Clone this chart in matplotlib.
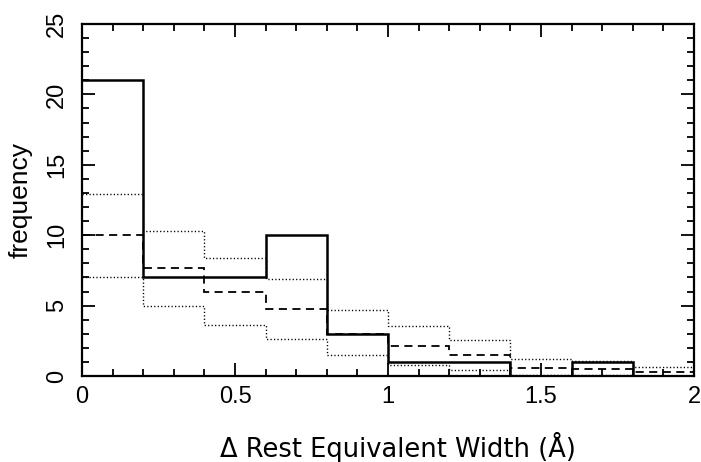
import matplotlib
matplotlib.use("Agg")
import matplotlib.pyplot as plt
from matplotlib.ticker import MultipleLocator

bin_edges = [0.0, 0.2, 0.4, 0.6, 0.8, 1.0, 1.2, 1.4, 1.6, 1.8, 2.0]
observed = [21, 7, 7, 10, 3, 1, 1, 0, 1, 0]
mean_sim = [10.0, 7.65, 6.0, 4.75, 3.0, 2.15, 1.49, 0.54, 0.5, 0.26]
upper_sim = [12.95, 10.3, 8.4, 6.87, 4.66, 3.57, 2.56, 1.18, 1.1, 0.66]
lower_sim = [7.0, 5.0, 3.6, 2.65, 1.49, 0.78, 0.42, 0.1, 0.05, 0.02]
x_ticks = [0, 0.5, 1, 1.5, 2]
x_ticklabels = ['0', '0.5', '1', '1.5', '2']

plt.rcParams['font.family'] = ['Liberation Sans', 'DejaVu Sans']

fig = plt.figure(figsize=(7.01, 4.62), dpi=100)
ax = fig.add_axes([82 / 701, 86 / 462, 612 / 701, 352 / 462])

ax.stairs(upper_sim, bin_edges, color='black', lw=1.0, linestyle=(0, (0.9, 1.6)), baseline=None)
ax.stairs(lower_sim, bin_edges, color='black', lw=1.0, linestyle=(0, (0.9, 1.6)), baseline=None)
ax.stairs(mean_sim, bin_edges, color='black', lw=1.3, linestyle=(0, (4.5, 3)), baseline=None)
ax.stairs(observed, bin_edges, color='black', lw=1.8, baseline=None)

ax.set_xlim(0, 2)
ax.set_ylim(0, 25)
ax.set_xticks(x_ticks)
ax.set_xticklabels(x_ticklabels)
ax.xaxis.set_minor_locator(MultipleLocator(0.1))
ax.yaxis.set_major_locator(MultipleLocator(5))
ax.yaxis.set_minor_locator(MultipleLocator(1))

ax.tick_params(which='both', direction='in', top=True, right=True, width=1.3, color='black')
ax.tick_params(which='major', length=9.5)
ax.tick_params(which='minor', length=5)
ax.tick_params(axis='x', labelsize=17, pad=7)
ax.tick_params(axis='y', labelsize=17, pad=10, labelrotation=90)
for lab in ax.get_yticklabels():
    lab.set_verticalalignment('center')

for s in ax.spines.values():
    s.set_linewidth(1.6)

ax.set_ylabel('frequency', fontsize=19)
ax.yaxis.set_label_coords((33 - 82) / 612, 0.5)

fig.text(398 / 701, 5 / 462, 'Δ Rest Equivalent Width (Å)', fontsize=18.5,
         ha='center', va='baseline', family=['DejaVu Sans'])

fig.savefig('out.png', dpi=100)
